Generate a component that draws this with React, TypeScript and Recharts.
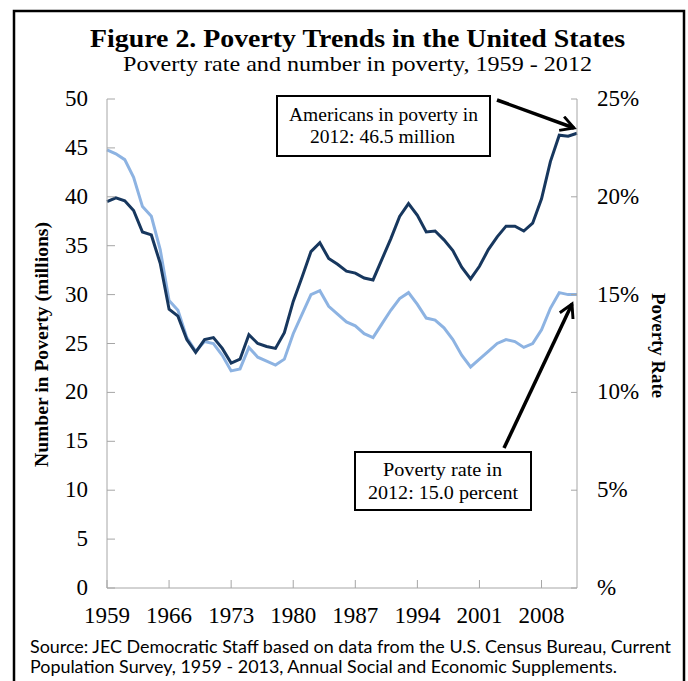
import React from 'react';
import { LineChart, Line, XAxis, YAxis } from 'recharts';

// poverty data, 1959 - 2012
const years = [
  1959, 1960, 1961, 1962, 1963, 1964, 1965, 1966, 1967, 1968,
  1969, 1970, 1971, 1972, 1973, 1974, 1975, 1976, 1977, 1978,
  1979, 1980, 1981, 1982, 1983, 1984, 1985, 1986, 1987, 1988,
  1989, 1990, 1991, 1992, 1993, 1994, 1995, 1996, 1997, 1998,
  1999, 2000, 2001, 2002, 2003, 2004, 2005, 2006, 2007, 2008,
  2009, 2010, 2011, 2012,
];
const numberInPoverty = [
  39.5, 39.9, 39.6, 38.6, 36.4, 36.1, 33.2, 28.5, 27.8, 25.4,
  24.1, 25.4, 25.6, 24.5, 23.0, 23.4, 25.9, 25.0, 24.7, 24.5,
  26.1, 29.3, 31.8, 34.4, 35.3, 33.7, 33.1, 32.4, 32.2, 31.7,
  31.5, 33.6, 35.7, 38.0, 39.3, 38.1, 36.4, 36.5, 35.6, 34.5,
  32.8, 31.6, 32.9, 34.6, 35.9, 37.0, 37.0, 36.5, 37.3, 39.8,
  43.6, 46.3, 46.2, 46.5,
];
const povertyRate = [
  22.4, 22.2, 21.9, 21.0, 19.5, 19.0, 17.3, 14.7, 14.2, 12.8,
  12.1, 12.6, 12.5, 11.9, 11.1, 11.2, 12.3, 11.8, 11.6, 11.4,
  11.7, 13.0, 14.0, 15.0, 15.2, 14.4, 14.0, 13.6, 13.4, 13.0,
  12.8, 13.5, 14.2, 14.8, 15.1, 14.5, 13.8, 13.7, 13.3, 12.7,
  11.9, 11.3, 11.7, 12.1, 12.5, 12.7, 12.6, 12.3, 12.5, 13.2,
  14.3, 15.1, 15.0, 15.0,
];
const yearTicks = [1959, 1966, 1973, 1980, 1987, 1994, 2001, 2008];
const numberTicks = [0, 5, 10, 15, 20, 25, 30, 35, 40, 45, 50];
const rateTicks = [0, 5, 10, 15, 20, 25];

const data = years.map((y, i) => ({ year: y, number: numberInPoverty[i], rate: povertyRate[i] }));

const W = 688;
const H = 681;
const PL = 107;
const PR = 577;
const PT = 99;
const PB = 588;
const serif = "'Liberation Serif', serif";
const gray = '#a6a6a6';

const LeftTick = (props: any) => {
  const { y, payload } = props;
  return (
    <g>
      <line x1={PL} x2={PL + 8} y1={y} y2={y} stroke={gray} />
      <text x={88} y={y} dy={7} textAnchor="end" fontFamily={serif} fontSize={23} fill="#000">
        {payload.value}
      </text>
    </g>
  );
};

const RightTick = (props: any) => {
  const { y, payload } = props;
  return (
    <g>
      <line x1={PR - 6} x2={PR} y1={y} y2={y} stroke={gray} />
      <text x={597} y={y} dy={7} textAnchor="start" fontFamily={serif} fontSize={23} fill="#000">
        {payload.value === 0 ? '%' : payload.value + '%'}
      </text>
    </g>
  );
};

const BottomTick = (props: any) => {
  const { x, payload } = props;
  return (
    <g>
      <line x1={x} x2={x} y1={PB - 8} y2={PB} stroke={gray} />
      <text x={x} y={PB + 35} textAnchor="middle" fontFamily={serif} fontSize={23} fill="#000">
        {payload.value}
      </text>
    </g>
  );
};

export default function App() {
  return (
    <div style={{ position: 'absolute', left: 0, top: 0, width: W, height: H, background: '#fff' }}>
      <LineChart
        width={W}
        height={H}
        data={data}
        margin={{ top: PT, right: 0, bottom: 0, left: 0 }}
      >
        <XAxis
          dataKey="year"
          type="number"
          domain={[1959, 2012]}
          ticks={yearTicks}
          tick={BottomTick}
          tickLine={false}
          axisLine={{ stroke: gray }}
          height={H - PB}
          interval={0}
        />
        <YAxis
          yAxisId="left"
          domain={[0, 50]}
          ticks={numberTicks}
          tick={LeftTick}
          tickLine={false}
          axisLine={{ stroke: gray }}
          width={PL}
          interval={0}
        />
        <YAxis
          yAxisId="right"
          orientation="right"
          domain={[0, 25]}
          ticks={rateTicks}
          tick={RightTick}
          tickLine={false}
          axisLine={{ stroke: gray }}
          width={W - PR}
          interval={0}
        />
        <Line
          yAxisId="right"
          dataKey="rate"
          stroke="#8db3e2"
          strokeWidth={3}
          dot={false}
          isAnimationActive={false}
        />
        <Line
          yAxisId="left"
          dataKey="number"
          stroke="#17375e"
          strokeWidth={3}
          dot={false}
          isAnimationActive={false}
        />
      </LineChart>
      <svg
        width={W}
        height={H}
        style={{ position: 'absolute', left: 0, top: 0, pointerEvents: 'none' }}
      >
        <defs>
          <marker id="arr" viewBox="0 0 12 12" refX="10" refY="6" markerWidth="5" markerHeight="5" orient="auto" markerUnits="strokeWidth">
            <path d="M1,1 L10,6 L1,11" fill="none" stroke="#000" strokeWidth={2} />
          </marker>
        </defs>
        <rect x={14} y={11} width={670} height={H + 10} fill="none" stroke="#000" strokeWidth={2.5} />
        <text x={90} y={47} fontFamily={serif} fontWeight="bold" fontSize={26} textLength={535} lengthAdjust="spacingAndGlyphs">
          Figure 2. Poverty Trends in the United States
        </text>
        <text x={123} y={71} fontFamily={serif} fontSize={22} textLength={469} lengthAdjust="spacingAndGlyphs">
          Poverty rate and number in poverty, 1959 - 2012
        </text>
        <text
          transform="translate(48,467) rotate(-90)"
          fontFamily={serif}
          fontWeight="bold"
          fontSize={18}
          textLength={245}
          lengthAdjust="spacingAndGlyphs"
        >
          Number in Poverty (millions)
        </text>
        <text
          transform="translate(652,293) rotate(90)"
          fontFamily={serif}
          fontWeight="bold"
          fontSize={18}
          textLength={105}
          lengthAdjust="spacingAndGlyphs"
        >
          Poverty Rate
        </text>

        <rect x={277} y={96} width={213} height={60} fill="#fff" stroke="#000" strokeWidth={2} />
        <text x={289} y={121} fontFamily={serif} fontSize={19} textLength={189} lengthAdjust="spacingAndGlyphs">
          Americans in poverty in
        </text>
        <text x={310} y={143} fontFamily={serif} fontSize={19} textLength={145} lengthAdjust="spacingAndGlyphs">
          2012: 46.5 million
        </text>
        <line x1={497} y1={100} x2={574} y2={128} stroke="#000" strokeWidth={3.5} markerEnd="url(#arr)" />

        <rect x={355} y={452} width={176} height={58} fill="#fff" stroke="#000" strokeWidth={2} />
        <text x={383} y={476} fontFamily={serif} fontSize={19} textLength={119} lengthAdjust="spacingAndGlyphs">
          Poverty rate in
        </text>
        <text x={368} y={499} fontFamily={serif} fontSize={19} textLength={150} lengthAdjust="spacingAndGlyphs">
          2012: 15.0 percent
        </text>
        <line x1={504} y1={448} x2={572} y2={304} stroke="#000" strokeWidth={3.5} markerEnd="url(#arr)" />

        <text x={30} y={653} fontFamily="Lato, sans-serif" fontSize={17} textLength={641} lengthAdjust="spacingAndGlyphs">
          Source: JEC Democratic Staff based on data from the U.S. Census Bureau, Current
        </text>
        <text x={30} y={673} fontFamily="Lato, sans-serif" fontSize={17} textLength={587} lengthAdjust="spacingAndGlyphs">
          Population Survey, 1959 - 2013, Annual Social and Economic Supplements.
        </text>
      </svg>
    </div>
  );
}
